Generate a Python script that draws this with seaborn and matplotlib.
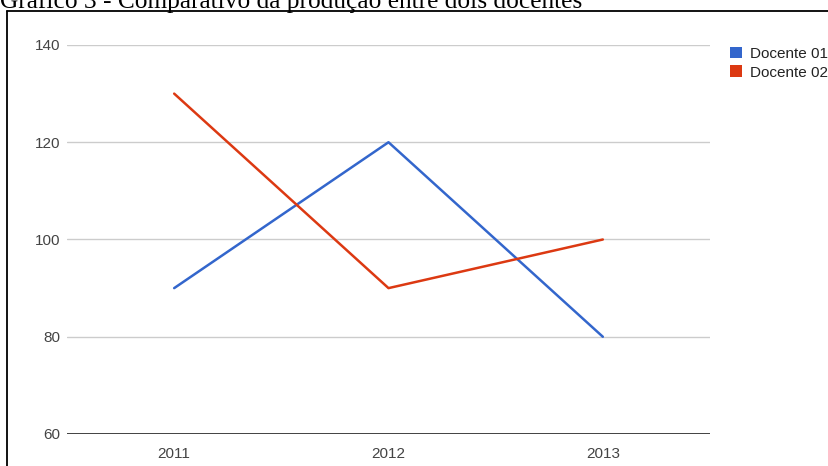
import matplotlib
matplotlib.use("Agg")
import matplotlib.pyplot as plt
from matplotlib.patches import Patch
from matplotlib.lines import Line2D
import seaborn as sns
import pandas as pd

# Production per year for two teachers
years = ["2011", "2012", "2013"]
docente_01 = [90, 120, 80]
docente_02 = [130, 90, 100]
series_names = ["Docente 01", "Docente 02"]
y_ticks = [60, 80, 100, 120, 140]
title_text = "Gráfico 3 - Comparativo da produção entre dois docentes"

colors = {"Docente 01": "#3366cc", "Docente 02": "#dc3912"}

df = pd.DataFrame({
    "ano": years * 2,
    "valor": docente_01 + docente_02,
    "docente": [series_names[0]] * len(years) + [series_names[1]] * len(years),
})

sns.set_theme(style="white")
plt.rcParams["font.family"] = ["Liberation Sans", "DejaVu Sans"]

W, H = 829, 466
fig = plt.figure(figsize=(W / 100, H / 100), dpi=100)
fig.patch.set_facecolor("white")

ax_left, ax_right, ax_top, ax_bottom = 67, 710, 45, 434
ax = fig.add_axes([ax_left / W, 1 - ax_bottom / H,
                   (ax_right - ax_left) / W, (ax_bottom - ax_top) / H])

# horizontal gridlines
for t in y_ticks[1:]:
    ax.axhline(t, color="#cccccc", lw=1.0, zorder=0)
ax.axhline(y_ticks[0], color="#333333", lw=1.3, zorder=3)

sns.lineplot(data=df, x="ano", y="valor", hue="docente", palette=colors,
             linewidth=1.8, ax=ax, legend=False, sort=False)

ax.set_xlim(-0.5, 2.5)
ax.set_ylim(60, 140)
ax.set_yticks(y_ticks)
ax.set_yticklabels([str(t) for t in y_ticks])
ax.set_xlabel("")
ax.set_ylabel("")
for s in ax.spines.values():
    s.set_visible(False)
ax.tick_params(axis="both", length=0, labelsize=11, labelcolor="#444444")
ax.tick_params(axis="y", pad=5)
ax.tick_params(axis="x", pad=9)
ax.set_facecolor("none")

# legend with square swatches
handles = [Patch(facecolor=colors[n], edgecolor="none", label=n) for n in series_names]
fig.legend(handles=handles, loc="upper left",
           bbox_to_anchor=(716 / W, 1 - 33 / H), frameon=False,
           fontsize=11, handlelength=0.8, handleheight=0.8,
           handletextpad=0.55, labelspacing=0.3, labelcolor="#222222")

# outer frame (left and top edges)
fig.add_artist(Line2D([7.5 / W, 7.5 / W], [0, 1 - 11 / H],
                      transform=fig.transFigure, color="black", lw=1.3))
fig.add_artist(Line2D([7.5 / W, 1], [1 - 11 / H, 1 - 11 / H],
                      transform=fig.transFigure, color="black", lw=1.3))

# caption above the frame
fig.text(0, 1 - 8 / H, title_text, family="Liberation Serif",
         fontsize=18.3, color="black", ha="left", va="baseline")

fig.savefig("out.png", dpi=100)
